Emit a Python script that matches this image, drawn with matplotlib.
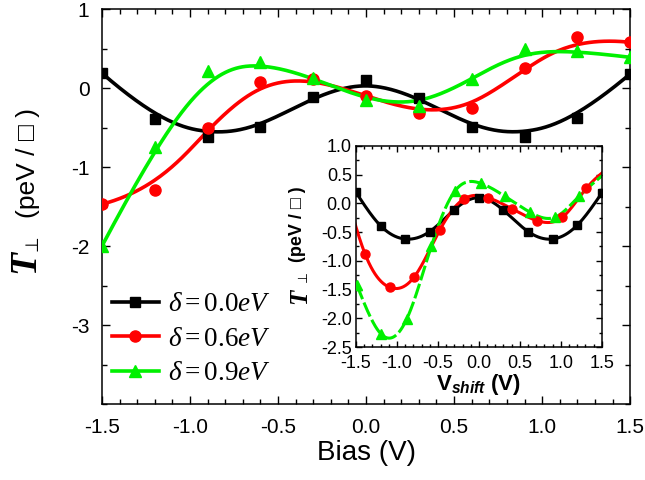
import numpy as np
import matplotlib
matplotlib.use('Agg')
import matplotlib.pyplot as plt
from matplotlib.lines import Line2D
from matplotlib.ticker import MultipleLocator

plt.rcParams['font.family'] = ['Liberation Sans', 'DejaVu Sans']
plt.rcParams['axes.unicode_minus'] = False
plt.rcParams['mathtext.fontset'] = 'custom'
plt.rcParams['mathtext.rm'] = 'Liberation Serif'
plt.rcParams['mathtext.it'] = 'Liberation Serif:italic'
plt.rcParams['mathtext.bf'] = 'Liberation Sans:bold'
plt.rcParams['mathtext.bfit'] = 'Liberation Sans:bold:italic'

# main panel: T_perp vs bias
bias = [-1.5, -1.2, -0.9, -0.6, -0.3, 0.0, 0.3, 0.6, 0.9, 1.2, 1.5]
t_d00 = [0.19, -0.39, -0.62, -0.49, -0.11, 0.10, -0.12, -0.49, -0.62, -0.38, 0.18]
t_d06 = [-1.47, -1.29, -0.50, 0.08, 0.12, -0.10, -0.31, -0.25, 0.25, 0.65, 0.58]
t_d09 = [-2.00, -0.74, 0.22, 0.33, 0.13, -0.15, -0.22, 0.11, 0.50, 0.47, 0.39]

# inset: T_perp vs V_shift (first/last red and last green lie outside the axis)
vs_d00 = bias
ts_d00 = t_d00
vs_d06 = [-1.69, -1.39, -1.09, -0.79, -0.48, -0.18, 0.11, 0.41, 0.71, 1.02, 1.31, 1.61]
ts_d06 = [0.60, -0.88, -1.46, -1.28, -0.47, 0.08, 0.10, -0.10, -0.30, -0.24, 0.26, 0.65]
vs_d09 = [-1.49, -1.19, -0.88, -0.58, -0.29, 0.02, 0.32, 0.62, 0.93, 1.22, 1.52]
ts_d09 = [-1.42, -2.28, -2.01, -0.74, 0.22, 0.35, 0.12, -0.15, -0.24, 0.12, 0.50]

labels = [r'$\delta=0.0eV$', r'$\delta=0.6eV$', r'$\delta=0.9eV$']
colors = ['black', '#ff0000', '#00f000']
markers = ['s', 'o', '^']


def bspline(xs, ys, n=400):
    # clamped cubic B-spline with the data points as control points
    P = np.column_stack([xs, ys]).astype(float)
    m = len(P)
    knots = np.concatenate([[0, 0, 0], np.arange(m - 2), [m - 3] * 3]).astype(float)
    t = np.linspace(0, m - 3, n)

    def basis(i, p):
        if p == 0:
            r = ((knots[i] <= t) & (t < knots[i + 1])).astype(float)
            if knots[i] < knots[i + 1] == knots[-1]:
                r[t == knots[-1]] = 1.0
            return r
        out = np.zeros_like(t)
        d1 = knots[i + p] - knots[i]
        d2 = knots[i + p + 1] - knots[i + 1]
        if d1 > 0:
            out += (t - knots[i]) / d1 * basis(i, p - 1)
        if d2 > 0:
            out += (knots[i + p + 1] - t) / d2 * basis(i + 1, p - 1)
        return out

    B = np.array([basis(i, 3) for i in range(m)])
    C = B.T @ P
    return C[:, 0], C[:, 1]


def cspline(xs, ys, n=400):
    # natural cubic spline through the points
    x = np.asarray(xs, float)
    y = np.asarray(ys, float)
    m = len(x)
    h = np.diff(x)
    A = np.zeros((m, m))
    r = np.zeros(m)
    A[0, 0] = A[-1, -1] = 1
    for i in range(1, m - 1):
        A[i, i - 1] = h[i - 1]
        A[i, i] = 2 * (h[i - 1] + h[i])
        A[i, i + 1] = h[i]
        r[i] = 6 * ((y[i + 1] - y[i]) / h[i] - (y[i] - y[i - 1]) / h[i - 1])
    M = np.linalg.solve(A, r)
    xx = np.linspace(x[0], x[-1], n)
    j = np.clip(np.searchsorted(x, xx) - 1, 0, m - 2)
    hj = h[j]
    a = x[j + 1] - xx
    b = xx - x[j]
    yy = (M[j] * a ** 3 + M[j + 1] * b ** 3) / (6 * hj) \
        + (y[j] / hj - M[j] * hj / 6) * a + (y[j + 1] / hj - M[j + 1] * hj / 6) * b
    return xx, yy


def style_axes(ax, xminor, ymajor, yminor, size, pad_x, pad_y, maj, mnr):
    ax.xaxis.set_major_locator(MultipleLocator(0.5))
    ax.xaxis.set_minor_locator(MultipleLocator(xminor))
    ax.yaxis.set_major_locator(MultipleLocator(ymajor))
    ax.yaxis.set_minor_locator(MultipleLocator(yminor))
    ax.tick_params(which='both', direction='in', top=True, right=True, width=1)
    ax.tick_params(which='major', length=maj)
    ax.tick_params(which='minor', length=mnr)
    ax.tick_params(axis='x', labelsize=size, pad=pad_x)
    ax.tick_params(axis='y', labelsize=size, pad=pad_y)
    for s in ax.spines.values():
        s.set_linewidth(1.1)


fig = plt.figure(figsize=(6.45, 4.8), dpi=100)
ax = fig.add_axes([0.158, 0.158, 0.819, 0.823])

for y, c, m in zip([t_d00, t_d06, t_d09], colors, markers):
    xx, yy = bspline(bias, y)
    ax.plot(xx, yy, color=c, lw=2.6, zorder=2)
    ax.plot(bias, y, ls='none', marker=m, color=c, ms=8 if m != 's' else 7, zorder=3)

ax.set_xlim(-1.5, 1.5)
ax.set_ylim(-4, 1)
style_axes(ax, 0.1, 1, 0.5, 15, 10, 9, 6, 3.5)
ax.set_yticks([-3, -2, -1, 0, 1])
ax.set_xlabel('Bias (V)', fontsize=20, labelpad=2)

handles = [Line2D([], [], color=c, marker=m, lw=2.6, ms=8 if m != 's' else 7)
           for c, m in zip(colors, markers)]
ax.legend(handles, labels, loc='lower left', bbox_to_anchor=(0.02, 0.045),
          frameon=False, fontsize=19.5, handlelength=1.7, handletextpad=0.35,
          labelspacing=0.32, borderaxespad=0, borderpad=0)

# main y label pieces
fig.text(25 / 645, 1 - 262 / 480, 'T', family='Liberation Serif', weight='bold',
         style='italic', fontsize=27, rotation=90, ha='center', va='center')
fig.text(32 / 645, 1 - 243 / 480, '\u22a5', family='DejaVu Sans', fontsize=13,
         rotation=90, ha='center', va='center')
fig.text(28 / 645, 1 - 163 / 480, '(peV / \u25a1 )', fontsize=19,
         rotation=90, ha='center', va='center')

# inset
axi = fig.add_axes([0.552, 0.277, 0.381, 0.419])
styles = ['-', '-', (0, (5, 1.2))]
for x, y, c, m, ls in zip([vs_d00, vs_d06, vs_d09], [ts_d00, ts_d06, ts_d09],
                          colors, markers, styles):
    xx, yy = cspline(x, y)
    axi.plot(xx, yy, color=c, lw=2.2, ls=ls, zorder=2)
    xa = np.asarray(x)
    ya = np.asarray(y)
    keep = np.abs(xa) <= 1.5
    axi.plot(xa[keep], ya[keep], ls='none', marker=m, color=c,
             ms=6.5 if m != 's' else 6, zorder=3)

axi.set_xlim(-1.5, 1.5)
axi.set_ylim(-2.5, 1.0)
style_axes(axi, 0.1, 0.5, 0.25, 13, 6, 3, 4, 2.5)
axi.set_xlabel(r'$\mathbf{V}_{\mathbfit{shift}}$ (V)', fontsize=16,
               weight='bold', labelpad=0)

fig.text(300 / 645, 1 - 296 / 480, 'T', family='Liberation Serif', weight='bold',
         style='italic', fontsize=18, rotation=90, ha='center', va='center')
fig.text(303 / 645, 1 - 277 / 480, '\u22a5', family='DejaVu Sans', fontsize=9,
         rotation=90, ha='center', va='center')
fig.text(298 / 645, 1 - 224 / 480, '(peV / \u25a1 )', fontsize=13, weight='bold',
         rotation=90, ha='center', va='center')

fig.savefig('out.png', dpi=100)
